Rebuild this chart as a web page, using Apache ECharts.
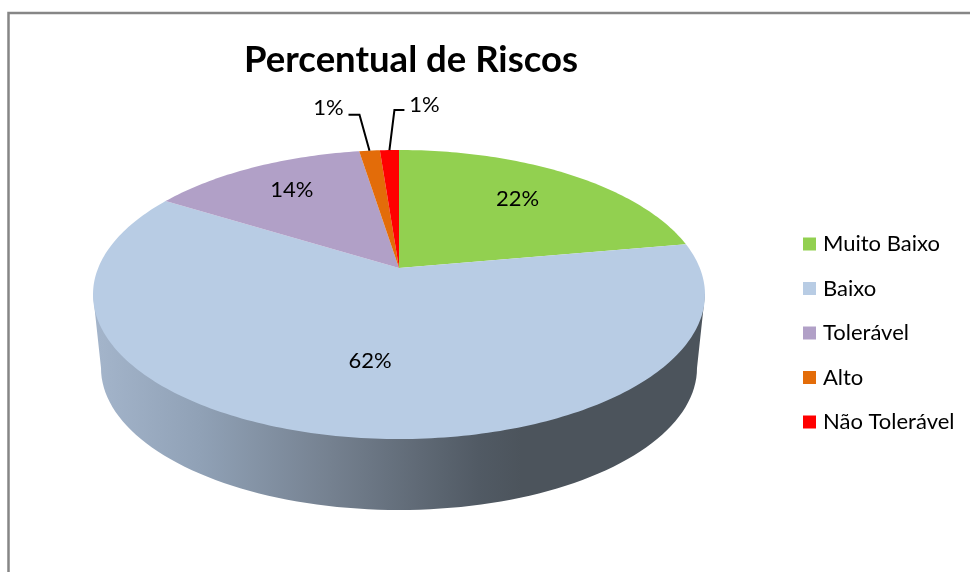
<!DOCTYPE html>
<html>
<head>
<meta charset="utf-8">
<style>
  html, body { margin: 0; padding: 0; background: #fff; }
  #chart { width: 970px; height: 572px; }
</style>
<script src="https://cdn.jsdelivr.net/npm/echarts@6/dist/echarts.min.js"></script>
</head>
<body>
<div id="chart"></div>
<script>
const categories = ['Muito Baixo', 'Baixo', 'Tolerável', 'Alto', 'Não Tolerável'];
const values = [22.2, 61.6, 13.7, 1.3, 1.2];
const colors = ['#92d050', '#b8cce4', '#b1a0c7', '#e36c09', '#ff0000'];

// tilted pie: unit circle -> screen, apex sits above the ellipse centre like excel's 3d pie
const cx = 399, apexY = 268, radius = 300.8, persp = 0.1834, tiltB = -90.5;
const project = (r, deg) => {
  const a = deg * Math.PI / 180;
  const u = r * Math.sin(a), v = r * Math.cos(a);
  const w = 1 + persp * v;
  return [cx + radius * u / w, (apexY + tiltB * v) / w];
};

const total = values.reduce((s, v) => s + v, 0);
const startAngle = (i) => values.slice(0, i).reduce((s, v) => s + v, 0) / total * 360;

// radius fraction of label and pixel nudge, per slice
const labelSpots = [
  { r: 0.69, dx: -3, dy: -2 },
  { r: 0.6, dx: 9, dy: 1 },
  { r: 0.72, dx: 1, dy: -3 }
];
// outside labels with a leader: elbow and label offsets from the rim point
const leaders = {
  3: { elbow: [-10, -36], end: [-21, -36], text: [-41, -43] },
  4: { elbow: [5, -40], end: [15, -40], text: [35, -45] }
};

const sliceItem = (i) => (params, api) => {
  const from = startAngle(i);
  const to = from + values[i] / total * 360;
  const points = [project(0, 0)];
  for (let d = from; d < to; d += 1) points.push(project(1, d));
  points.push(project(1, to));

  const children = [{
    type: 'polygon',
    shape: { points: points },
    style: { fill: colors[i] }
  }];
  const mid = (from + to) / 2;
  const text = Math.round(values[i] / total * 100) + '%';
  let labelPos;
  if (leaders[i]) {
    const rim = project(1, mid);
    const l = leaders[i];
    children.push({
      type: 'polyline',
      shape: { points: [rim, [rim[0] + l.elbow[0], rim[1] + l.elbow[1]], [rim[0] + l.end[0], rim[1] + l.end[1]]] },
      style: { stroke: '#000', lineWidth: 2, fill: null }
    });
    labelPos = [rim[0] + l.text[0], rim[1] + l.text[1]];
  } else {
    const s = labelSpots[i];
    const p = project(s.r, mid);
    labelPos = [p[0] + s.dx, p[1] + s.dy];
  }
  children.push({
    type: 'text',
    z2: 10,
    style: {
      x: labelPos[0], y: labelPos[1], text: text,
      fill: '#000', font: '22px Lato', align: 'center', verticalAlign: 'middle'
    }
  });
  return { type: 'group', children: children };
};

// side wall, only the Baixo slice shows from this angle
const wallItem = () => {
  const pts = [];
  const wx = 298, wy = 142, wc = 368;
  for (let d = 0; d <= 180; d += 2) {
    const a = d * Math.PI / 180;
    pts.push([cx + wx * Math.cos(a), wc + wy * Math.sin(a)]);
  }
  pts.push([cx - 306, 294], [cx + 306, 294]);
  return {
    type: 'polygon',
    shape: { points: pts },
    style: {
      fill: new echarts.graphic.LinearGradient(0, 0, 1, 0, [
        { offset: 0.01, color: '#a3b4ca' },
        { offset: 0.175, color: '#90a1b6' },
        { offset: 0.387, color: '#758190' },
        { offset: 0.63, color: '#515a64' },
        { offset: 0.7, color: '#4c545c' },
        { offset: 1, color: '#4c545c' }
      ])
    }
  };
};

const series = [{
  name: 'wall',
  type: 'custom',
  coordinateSystem: 'none',
  renderItem: wallItem,
  data: [values[1]],
  silent: true
}];
categories.forEach((name, i) => {
  series.push({
    name: name,
    type: 'custom',
    coordinateSystem: 'none',
    itemStyle: { color: colors[i] },
    renderItem: sliceItem(i),
    data: [values[i]]
  });
});

const myChart = echarts.init(document.getElementById('chart'));
myChart.setOption({
  animation: false,
  backgroundColor: '#fff',
  title: {
    text: 'Percentual de Riscos',
    left: 406,
    top: 37,
    textAlign: 'center',
    textStyle: { fontFamily: 'Lato', fontSize: 36.5, fontWeight: 'bold', color: '#000' }
  },
  legend: {
    data: categories,
    orient: 'vertical',
    left: 798,
    top: 228,
    icon: 'rect',
    itemWidth: 13,
    itemHeight: 13,
    itemGap: 22.5,
    textStyle: { fontFamily: 'Lato', fontSize: 22, color: '#000', padding: [0, 0, 0, 2] }
  },
  graphic: [{
    type: 'rect',
    silent: true,
    shape: { x: 8.5, y: 13, width: 1000, height: 600 },
    style: { fill: null, stroke: '#868686', lineWidth: 2.5 }
  }],
  series: series
});
</script>
</body>
</html>
